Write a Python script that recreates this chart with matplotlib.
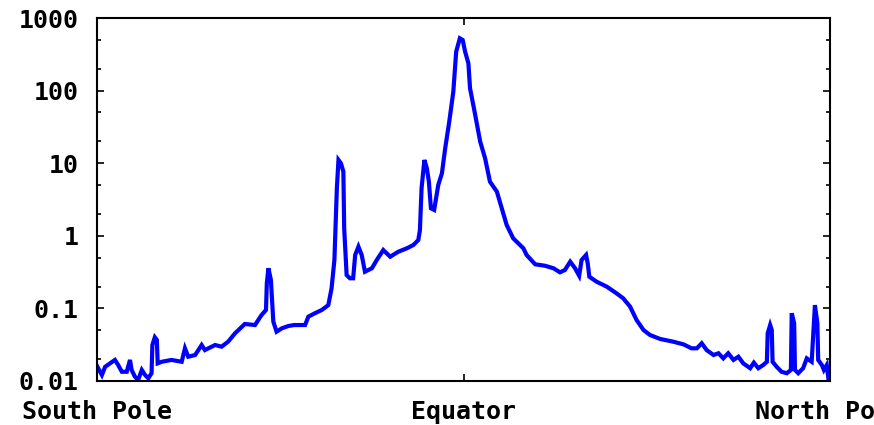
import matplotlib
matplotlib.use("Agg")
import matplotlib.pyplot as plt
from matplotlib.ticker import LogLocator, NullFormatter

lat_south = [-90, -88.8, -88.0, -86.8, -85.6, -84.8, -83.9, -82.7, -81.9, -81.5,
             -80.7, -79.9, -79.0, -78.2, -77.4, -76.6, -76.4, -75.8, -75.3, -75.1,
             -74.1, -71.7, -69.2, -68.4, -67.6, -65.9, -64.3, -63.5, -61.0, -59.4,
             -57.8, -56.1, -53.7, -51.2, -49.6, -48.5, -48.3, -47.9, -47.3, -46.7,
             -45.9, -44.6, -43.0, -41.6, -38.9]
val_south = [0.0161, 0.0121, 0.0157, 0.0175, 0.0195, 0.0166, 0.0134, 0.0134, 0.0195, 0.0142,
             0.0115, 0.0103, 0.0142, 0.0121, 0.0109, 0.0128, 0.0313, 0.040, 0.0367, 0.0175,
             0.0184, 0.0195, 0.0184, 0.0282, 0.0216, 0.0228, 0.0313, 0.0267, 0.0313, 0.0297,
             0.0348, 0.0454, 0.061, 0.059, 0.081, 0.095, 0.222, 0.357, 0.246, 0.0656,
             0.0478, 0.0532, 0.0572, 0.059, 0.059]

lat_mid = [-38.1, -36.5, -34.8, -33.2, -32.4, -31.7, -31.1, -30.7, -30.1, -29.5,
           -29.3, -28.7, -27.9, -27.1, -26.6, -25.8, -25.0, -24.2, -22.5, -21.3,
           -19.7, -18.0, -16.0, -13.9, -12.3, -11.1, -10.7, -10.3, -9.6, -9.0,
           -8.5, -8.0, -7.2, -6.2,
           -5.3, -4.5, -3.5, -2.5, -1.8, -0.9, -0.2, 0.4, 1.2, 1.6,
           2.8, 4.1, 5.3, 6.5, 8.2, 9.4, 10.6, 12.2, 14.7]
val_mid = [0.0769, 0.0857, 0.0951, 0.111, 0.189, 0.464, 4.51, 11.07, 9.97, 7.64,
           1.27, 0.288, 0.26, 0.26, 0.544, 0.708, 0.544, 0.320, 0.357, 0.464,
           0.637, 0.515, 0.604, 0.673, 0.747, 0.875, 1.20, 4.51, 11.07, 8.51,
           5.56, 2.39, 2.27, 5.01,
           7.26, 16.0, 37.3, 96.6, 343, 525, 498, 343, 238, 108,
           48.6, 19.8, 11.7, 5.56, 4.05, 2.39, 1.41, 0.924, 0.673]

lat_north = [15.5, 17.6, 20.0, 22.1, 23.7, 24.9, 26.2, 27.4, 28.4, 29.0,
             30.1, 30.5, 30.9, 32.7, 35.2, 37.6, 39.2, 40.9, 42.5, 44.2,
             45.8, 48.3, 51.5, 54.0, 56.0, 57.3, 58.5, 59.7, 61.4,
             62.6, 63.8, 65.0, 66.3, 67.5, 68.7, 70.4, 71.3, 72.4, 73.6,
             74.5, 74.7, 75.3, 75.7, 75.9, 76.9, 78.1, 79.4, 80.4, 80.6,
             81.2, 81.4, 82.2, 83.4, 84.3, 85.5, 86.3, 86.9, 87.1, 88.0,
             88.5, 89.2, 89.6, 90]
val_north = [0.544, 0.405, 0.387, 0.357, 0.314, 0.338, 0.440, 0.357, 0.282, 0.464,
             0.544, 0.418, 0.273, 0.233, 0.199, 0.161, 0.138, 0.106, 0.0692, 0.0504,
             0.0430, 0.0379, 0.0348, 0.0320, 0.0282, 0.0282, 0.0331, 0.0267, 0.0228,
             0.0241, 0.0205, 0.0241, 0.0195, 0.0216, 0.0175, 0.0150, 0.0179, 0.0150, 0.0166,
             0.0184, 0.0454, 0.059, 0.0504, 0.0184, 0.0157, 0.0134, 0.0128, 0.0142, 0.0857,
             0.0623, 0.0142, 0.0128, 0.0150, 0.0205, 0.0184, 0.111, 0.0623, 0.0195, 0.0166,
             0.0142, 0.0166, 0.0109, 0.0115]

lat = lat_south + lat_mid + lat_north
val = val_south + val_mid + val_north

y_ticks = [0.01, 0.1, 1, 10, 100, 1000]
y_labels = ["0.01", "0.1", "1", "10", "100", "1000"]
x_ticks = [-90, 0, 90]
x_labels = ["South Pole", "Equator", "North Pole"]  # "North Pole" runs off the right edge, as in the original

font = {"family": "DejaVu Sans Mono", "weight": "bold", "size": 18}

fig = plt.figure(figsize=(8.74, 4.25), dpi=100)
ax = fig.add_axes([97 / 874, 1 - 381 / 425, 733 / 874, 363 / 425])

ax.plot(lat, val, color="#0000ff", lw=3.0, solid_joinstyle="miter")

ax.set_yscale("log")
ax.set_xlim(-90, 90)
ax.set_ylim(0.01, 1000)

ax.set_yticks(y_ticks)
ax.set_yticklabels(y_labels, fontdict=font)
ax.yaxis.set_minor_locator(LogLocator(base=10, subs=(2, 5)))
ax.yaxis.set_minor_formatter(NullFormatter())
ax.set_xticks(x_ticks)
ax.set_xticklabels(x_labels, fontdict=font)

ax.tick_params(axis="both", which="major", direction="in", length=5, width=1.2,
               top=True, right=True, colors="black")
ax.tick_params(axis="y", which="minor", direction="in", length=3, width=1.2, right=True)
ax.tick_params(axis="y", which="major", pad=13)
ax.tick_params(axis="x", which="major", pad=14)

for s in ax.spines.values():
    s.set_linewidth(1.5)
    s.set_color("black")

fig.savefig("out.png", dpi=100)
